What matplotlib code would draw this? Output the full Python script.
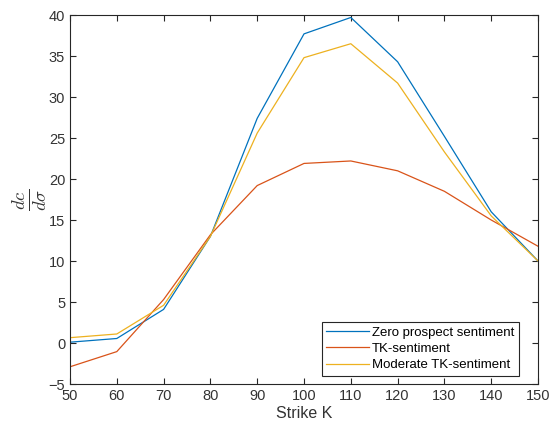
import matplotlib.pyplot as plt
import numpy as np

plt.rcParams['font.family'] = ['Liberation Sans', 'DejaVu Sans']
plt.rcParams['mathtext.fontset'] = 'cm'

# strike prices
strike = [50, 60, 70, 80, 90, 100, 110, 120, 130, 140, 150]

# dc/dsigma for each sentiment case
zero_sent = [0.1, 0.55, 4.1, 13.0, 27.4, 37.7, 39.7, 34.3, 25.2, 16.0, 10.0]
tk_sent = [-2.9, -1.05, 5.3, 13.2, 19.2, 21.9, 22.2, 21.0, 18.5, 15.0, 11.8]
moderate_sent = [0.65, 1.1, 4.6, 13.0, 25.6, 34.8, 36.5, 31.7, 23.3, 15.5, 10.0]

labels = ['Zero prospect sentiment', 'TK-sentiment', 'Moderate TK-sentiment']
colores = ['#0072BD', '#D95319', '#EDB120']

fig = plt.figure(figsize=(5.49, 4.34), dpi=100)
ax = fig.add_axes([0.1275, 0.1152, 0.8525, 0.8502])

for serie, lab, col in zip([zero_sent, tk_sent, moderate_sent], labels, colores):
    ax.plot(strike, serie, color=col, lw=0.9, label=lab)

ax.set_xlim(50, 150)
ax.set_ylim(-5, 40)
ax.set_xticks(np.arange(50, 151, 10))
ax.set_yticks(np.arange(-5, 41, 5))

# estilo tipo MATLAB
for s in ax.spines.values():
    s.set_color('#262626')
    s.set_linewidth(0.8)
ax.tick_params(direction='in', top=True, right=True, length=4, width=0.8,
               colors='#262626', labelsize=10.5, labelcolor='#333333')

ax.set_xlabel('Strike K', fontsize=11.5, color='#333333', labelpad=2)
ax.set_ylabel(r'$\frac{dc}{d\sigma}$', fontsize=19, color='#333333', labelpad=0)

leg = ax.legend(loc='lower right', bbox_to_anchor=(0.959, 0.022), fontsize=9.5,
                fancybox=False, framealpha=1, edgecolor='#262626',
                handlelength=3.2, borderpad=0.35, labelspacing=0.3,
                handletextpad=0.25, borderaxespad=0.0)
leg.get_frame().set_linewidth(0.8)

fig.savefig('out.png', dpi=100)
